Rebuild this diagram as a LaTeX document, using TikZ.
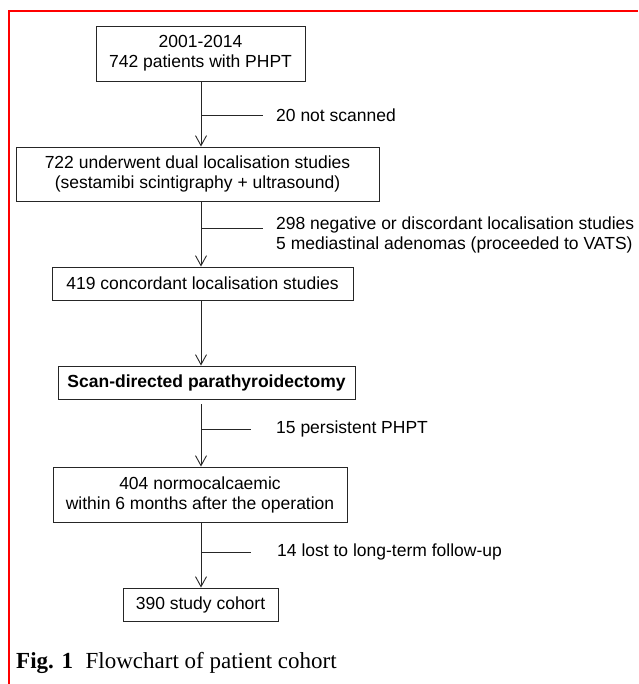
\documentclass[tikz,border=0pt]{standalone}
\usepackage{fontspec}
\setmainfont{Liberation Sans}
\newfontfamily\capfont{Liberation Serif}
\usetikzlibrary{arrows.meta}
\begin{document}
\begin{tikzpicture}[x=1pt, y=-1pt,
    box/.style={draw=black!85, line width=0.9pt, align=center, inner sep=0pt,
      font=\fontsize{17.5}{20}\selectfont},
    note/.style={anchor=west, align=left, inner sep=0pt,
      font=\fontsize{17.5}{20}\selectfont},
    arr/.style={-{Straight Barb[length=10pt,width=11pt]}, draw=black!85, line width=0.9pt},
    tick/.style={draw=black!85, line width=0.9pt}]
      \useasboundingbox (0,0) rectangle (638,684);

      % Red frame
      \draw[red, line width=2pt] (638,11) -- (9,11) -- (9,684);

      % Boxes
      \node[box, minimum width=209, minimum height=55] (b1) at (200.5,53.5)
        {2001-2014\\742 patients with PHPT};
      \node[box, minimum width=363, minimum height=54] (b2) at (197.5,174)
        {722 underwent dual localisation studies\\(sestamibi scintigraphy + ultrasound)};
      \node[box, minimum width=301, minimum height=33] (b3) at (202.5,283.5)
        {419 concordant localisation studies};
      \node[box, minimum width=297, minimum height=33] (b4) at (206.5,382.5)
        {\bfseries Scan-directed parathyroidectomy};
      \node[box, minimum width=294, minimum height=55] (b5) at (200,494.5)
        {404 normocalcaemic\\within 6 months after the operation};
      \node[box, minimum width=155, minimum height=33] (b6) at (200.5,604.5)
        {390 study cohort};

      % Main axis
      \coordinate (ax) at (201,0);
      \foreach \a/\b/\g in {b1/b2/0,b2/b3/0,b3/b4/0,b4/b5/5,b5/b6/0}
      {\draw[arr, shorten <=\g pt] (\a.south -| ax) -- (\b.north -| ax);}

      % Side branches
      \foreach \i/\y/\e in {1/115/263, 2/228/263, 3/429/251, 4/552/251}
      {\coordinate (s\i) at (201,\y);
       \coordinate (e\i) at (\e,\y);
       \draw[tick] (s\i) -- (e\i);}

      % Exclusion notes
      \node[note] (n1) at (276,115) {20 not scanned};
      \node[note] (n2) at (276,234.5)
        {298 negative or discordant localisation studies\\5 mediastinal adenomas (proceeded to VATS)};
      \node[note] (n3) at (276,429) {15 persistent PHPT};
      \node[note] (n4) at (277,552) {14 lost to long-term follow-up};

      % Caption
      \node[anchor=base west, inner sep=0pt, font=\capfont\fontsize{23}{26}\selectfont]
        (cap) at (16,668) {\textbf{Fig. 1}\hspace{0.55em}Flowchart of patient cohort};
    \end{tikzpicture}
\end{document}
